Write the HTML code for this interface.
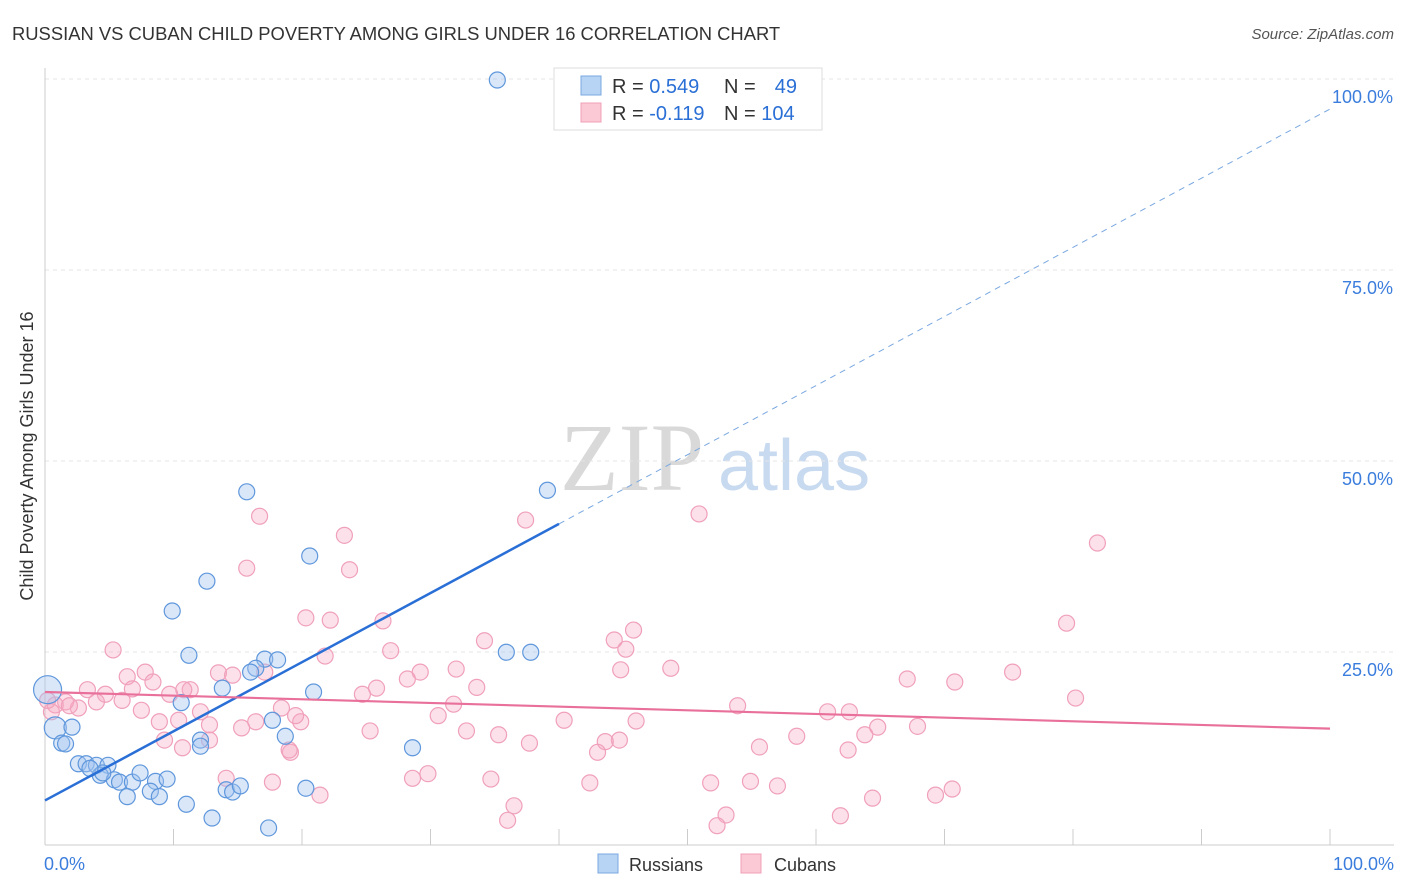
<!DOCTYPE html>
<html><head><meta charset="utf-8"><style>
body{margin:0;background:#fff;font-family:"Liberation Sans",sans-serif}
svg{display:block}
</style></head><body>
<svg width="1406" height="892" xmlns="http://www.w3.org/2000/svg">
<text x="12" y="40" font-size="18.4" fill="#333">RUSSIAN VS CUBAN CHILD POVERTY AMONG GIRLS UNDER 16 CORRELATION CHART</text>
<text x="1394" y="39" font-size="15" fill="#555" font-style="italic" text-anchor="end">Source: ZipAtlas.com</text>
<text x="560" y="490" font-size="96" fill="#d9d9d9" font-family="Liberation Serif,serif">ZIP</text>
<text x="718" y="490" font-size="72" fill="#c8daf0">atlas</text>
<g id="grid"></g>
<g id="axes"></g>
<text transform="translate(33,456) rotate(-90)" font-size="18" fill="#333" text-anchor="middle">Child Poverty Among Girls Under 16</text>
<g id="marks"></g>
<g id="lines"></g>
<g>
<rect x="554" y="68" width="268" height="62" fill="#fff" stroke="#ddd"/>
<rect x="581" y="76" width="20" height="19" fill="#b8d4f5" stroke="#7aa8e0"/>
<rect x="581" y="103" width="20" height="19" fill="#fbc8d6" stroke="#f0a0b8"/>
<text x="612" y="93" font-size="20" fill="#333">R = <tspan fill="#2a6fd6">0.549</tspan></text>
<text x="724" y="93" font-size="20" fill="#333">N = </text><text x="797" y="93" font-size="20" fill="#2a6fd6" text-anchor="end">49</text>
<text x="612" y="120" font-size="20" fill="#333">R = <tspan fill="#2a6fd6">-0.119</tspan></text>
<text x="724" y="120" font-size="20" fill="#333">N = <tspan fill="#2a6fd6">104</tspan></text>
</g>
<g><rect x="598" y="854" width="20" height="19" fill="#b8d4f5" stroke="#7aa8e0"/><text x="629" y="871" font-size="18" fill="#333">Russians</text></g>
<g><rect x="741" y="854" width="20" height="19" fill="#fbc8d6" stroke="#f0a0b8"/><text x="774" y="871" font-size="18" fill="#333">Cubans</text></g>
</svg>
<script>
const yTicks=[25,50,75,100];
const yTickLabels=["25.0%","50.0%","75.0%","100.0%"];
const xTickLabels=["0.0%","100.0%"];
const russiansX=[35.2,39.1,15.7,20.6,12.6,9.9,11.2,17.1,18.1,16.4,16.0,20.9,13.8,10.6,12.1,12.1,0.2,0.8,2.1,1.3,1.6,2.6,3.2,4.0,4.9,4.3,5.4,5.8,6.8,7.4,8.6,9.5,8.2,6.4,8.9,11.0,14.1,14.6,15.2,13.0,17.4,20.3,18.7,17.7,28.6,35.9,37.8,4.5,3.5];
const russiansY=[100.0,46.3,46.1,37.7,34.4,30.5,24.7,24.2,24.1,23.0,22.5,19.9,20.4,18.5,13.6,12.8,20.2,15.2,15.3,13.2,13.1,10.5,10.5,10.3,10.3,9.0,8.4,8.1,8.1,9.3,8.2,8.5,6.9,6.2,6.2,5.2,7.1,6.8,7.6,3.4,2.1,7.3,14.1,16.2,12.6,25.1,25.1,9.3,9.9];
const cubansX=[37.4,50.9,81.9,16.7,23.3,15.7,23.7,20.3,22.2,26.3,79.5,34.2,45.8,44.3,45.2,5.3,21.8,26.9,32.0,29.2,28.2,48.7,44.8,75.3,67.1,70.8,80.2,6.4,7.8,8.4,3.3,4.7,6.8,9.7,11.3,13.5,14.6,17.1,25.8,24.7,33.6,31.8,53.9,60.9,62.6,40.4,46.0,67.9,64.8,63.8,58.5,62.5,55.6,44.7,43.6,43.0,37.7,35.3,30.6,32.8,25.3,19.9,19.5,18.4,16.4,15.3,12.8,12.1,10.4,8.9,7.5,6.0,4.0,2.6,1.6,0.8,0.5,0.2,1.9,9.3,10.7,12.8,19.1,21.4,14.1,17.7,28.6,29.8,34.7,42.4,51.8,54.9,57.0,64.4,69.3,70.6,61.9,53.0,52.3,36.5,36.0,19.0,10.8];
const cubansY=[42.4,43.2,39.4,42.9,40.4,36.1,35.9,29.6,29.3,29.2,28.9,26.6,28.0,26.7,25.5,25.4,24.6,25.3,22.9,22.5,21.6,23.0,22.8,22.5,21.6,21.2,19.1,21.9,22.5,21.2,20.2,19.6,20.3,19.6,20.2,22.4,22.1,22.5,20.4,19.6,20.5,18.3,18.1,17.3,17.3,16.2,16.1,15.4,15.3,14.3,14.1,12.3,12.7,13.6,13.4,12.0,13.2,14.3,16.8,14.8,14.8,16.0,16.8,17.8,16.0,15.2,15.6,17.3,16.2,16.0,17.5,18.8,18.6,17.8,18.6,18.2,17.3,18.8,18.1,13.6,12.6,13.6,12.0,6.4,8.6,8.1,8.6,9.2,8.5,8.0,8.0,8.2,7.6,6.0,6.4,7.2,3.7,3.8,2.4,5.0,3.1,12.3,20.2];
const blueFit=[5.7,0.905];
const pinkFit=[19.9,-0.048];
const NS="http://www.w3.org/2000/svg";
const X=v=>45+v*12.85, Y=v=>844-v*7.64;
function mk(t,a,p){const e=document.createElementNS(NS,t);for(const k in a)e.setAttribute(k,a[k]);p.appendChild(e);return e;}
const grid=document.getElementById('grid'),axes=document.getElementById('axes'),marks=document.getElementById('marks'),lines=document.getElementById('lines');
yTicks.forEach((t,i)=>{
 const g=mk('line',{x1:45,x2:1394,y1:Y(t)-1,y2:Y(t)-1,stroke:'#e4e4e4','stroke-dasharray':'4,4'},grid);
 
 
 const l=mk('text',{x:1393,y:Y(t)+23,'font-size':18,fill:'#3b7ddd','text-anchor':'end'},grid);
 l.textContent=yTickLabels[i];
 
 
});
const ya=mk('line',{x1:45,x2:45,y1:68,y2:845,stroke:'#ccc'},axes);


const xa=mk('line',{x1:45,x2:1394,y1:845,y2:845,stroke:'#ccc'},axes);


for(let i=0;i<=10;i++){const t=mk('line',{x1:X(i*10),x2:X(i*10),y1:829,y2:845,stroke:'#ccc'},axes);
 
 }
[[0,'start',44],[100,'end',1394]].forEach((d,i)=>{const t=mk('text',{x:d[2],y:870,'font-size':18,fill:'#3b7ddd','text-anchor':d[1]},axes);t.textContent=xTickLabels[i];
 
 });
cubansX.forEach((v,i)=>{const c=mk('circle',{cx:X(v),cy:Y(cubansY[i]),r:8,fill:'rgba(246,170,195,0.35)',stroke:'#f0a0ba','stroke-width':1.2},marks);
 
 });
russiansX.forEach((v,i)=>{const r=i==16?14:(i==17?11:8);const c=mk('circle',{cx:X(v),cy:Y(russiansY[i]),r:r,fill:'rgba(160,195,240,0.4)',stroke:'#5f97dc','stroke-width':1.2},marks);
 
 });
const b1=mk('line',{x1:X(0),y1:Y(blueFit[0]),x2:X(40),y2:Y(blueFit[0]+blueFit[1]*40),stroke:'#2a6fd6','stroke-width':2.5},lines);


const b2=mk('line',{x1:X(40),y1:Y(blueFit[0]+blueFit[1]*40),x2:X(100),y2:Y(blueFit[0]+blueFit[1]*100),stroke:'#7aa8e0','stroke-width':1,'stroke-dasharray':'6,5'},lines);


const p1=mk('line',{x1:X(0),y1:Y(pinkFit[0]),x2:X(100),y2:Y(pinkFit[0]+pinkFit[1]*100),stroke:'#e8709a','stroke-width':2.2},lines);


</script>
</body></html>
